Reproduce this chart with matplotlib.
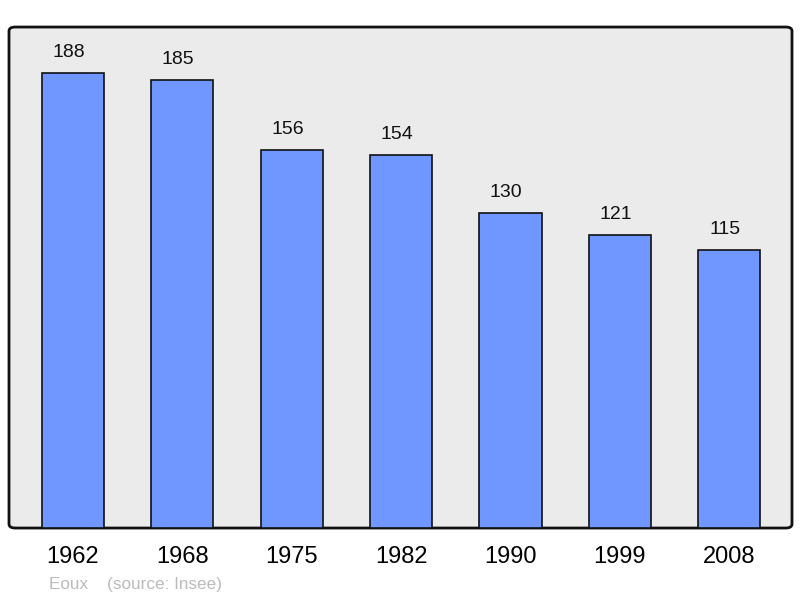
import matplotlib.pyplot as plt
from matplotlib.patches import FancyBboxPatch

plt.rcParams['font.family'] = ['Liberation Sans', 'DejaVu Sans']

years = ["1962", "1968", "1975", "1982", "1990", "1999", "2008"]
population = [188, 185, 156, 154, 130, 121, 115]

fig = plt.figure(figsize=(8, 5.98), dpi=100)
ax = fig.add_axes([0.01125, 0.117, 0.97875, 0.8378])
ax.set_facecolor('none')
for s in ax.spines.values():
    s.set_visible(False)

frame = FancyBboxPatch((0, 0), 1, 1, boxstyle="round,pad=0,rounding_size=0.008",
                       transform=ax.transAxes, facecolor='#ebebeb', edgecolor='#111111',
                       linewidth=2, zorder=0, clip_on=False)
ax.add_patch(frame)

x = range(len(years))
bars = ax.bar(x, population, width=0.57, color='#7097ff', edgecolor='#111111',
              linewidth=1.2, zorder=2)
for xi, v in zip(x, population):
    ax.text(xi - 0.04, v + 5, str(v), ha='center', va='bottom', fontsize=14, color='#111111')

ax.set_xlim(-0.585, 6.575)
ax.set_ylim(0, 207)
ax.set_yticks([])
ax.set_xticks(list(x))
ax.set_xticklabels(years, fontsize=17)
ax.tick_params(axis='x', length=0, pad=13)

fig.text(49 / 800, 1 - 584 / 598, "Eoux    (source: Insee)", fontsize=12.3,
         color='#bbbbbb', va='center', ha='left')

fig.savefig('out.png', dpi=100)
